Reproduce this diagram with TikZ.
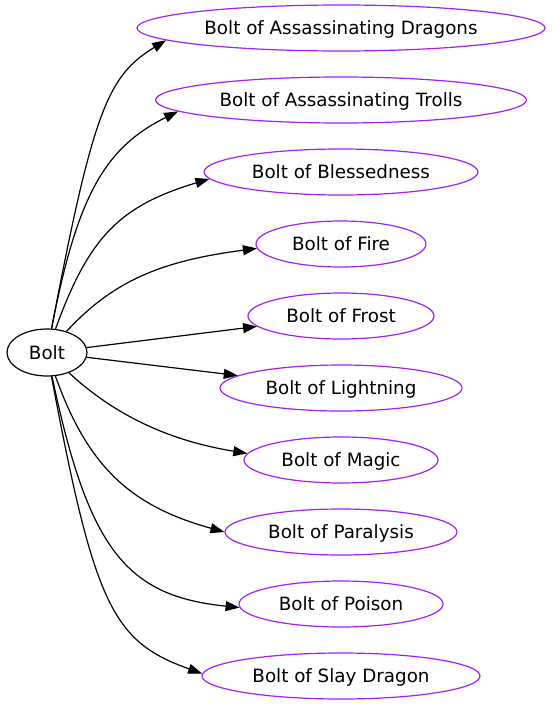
\documentclass[tikz,border=0pt]{standalone}
\usepackage{fontspec}
\setmainfont{DejaVu Sans}
\usetikzlibrary{shapes.geometric,arrows.meta}
\definecolor{gvpurple}{HTML}{A020F0}
\begin{document}
\begin{tikzpicture}[x=1pt,y=-1pt,
  lbl/.style={font=\fontsize{18.3pt}{20pt}\selectfont,text height=13.3pt,text depth=0pt},
  src/.style={lbl,ellipse,draw=black,line width=1.2pt,minimum width=80pt,minimum height=47pt,inner sep=0pt},
  tgt/.style={lbl,ellipse,draw=gvpurple,line width=1.2pt,minimum height=46pt,inner sep=0pt},
  edge/.style={draw=black,line width=1.2pt,-{Triangle[length=14pt,width=10pt]}}]
\useasboundingbox[fill=white] (0,0) rectangle (552,707);
\node[src] (bolt) at (47,352.5) {Bolt};
\node[tgt,minimum width=408pt] (t1) at (341,28) {Bolt of Assassinating Dragons};
\node[tgt,minimum width=371pt] (t2) at (341,100) {Bolt of Assassinating Trolls};
\node[tgt,minimum width=274pt] (t3) at (341,172) {Bolt of Blessedness};
\node[tgt,minimum width=170pt] (t4) at (341,244) {Bolt of Fire};
\node[tgt,minimum width=186pt] (t5) at (341,316) {Bolt of Frost};
\node[tgt,minimum width=242pt] (t6) at (341,388) {Bolt of Lightning};
\node[tgt,minimum width=194pt] (t7) at (341,460) {Bolt of Magic};
\node[tgt,minimum width=232pt] (t8) at (341,532) {Bolt of Paralysis};
\node[tgt,minimum width=204pt] (t9) at (341,604) {Bolt of Poison};
\node[tgt,minimum width=278pt] (t10) at (341,676) {Bolt of Slay Dragon};
\draw[edge] (bolt) .. controls (93.2,110) and (107.9,75.7) .. (t1.184.4);
\draw[edge] (bolt) .. controls (77.2,195) and (105.4,147.3) .. (t2.184.2);
\draw[edge] (bolt) .. controls (89.1,236.2) and (120.1,205.8) .. (t3.183);
\draw[edge] (bolt) .. controls (113.2,280.9) and (161.1,260.9) .. (t4.183.7);
\draw[edge] (bolt) -- (t5);
\draw[edge] (bolt) -- (t6);
\draw[edge] (bolt) .. controls (116.9,417.1) and (171.3,440.9) .. (t7.176);
\draw[edge] (bolt) .. controls (87.9,467.2) and (130.8,506) .. (t8.180);
\draw[edge] (bolt) .. controls (88.5,549.6) and (126.1,596) .. (t9.182);
\draw[edge] (bolt) .. controls (94.6,606.5) and (113,641.7) .. (t10.179);
\end{tikzpicture}
\end{document}
